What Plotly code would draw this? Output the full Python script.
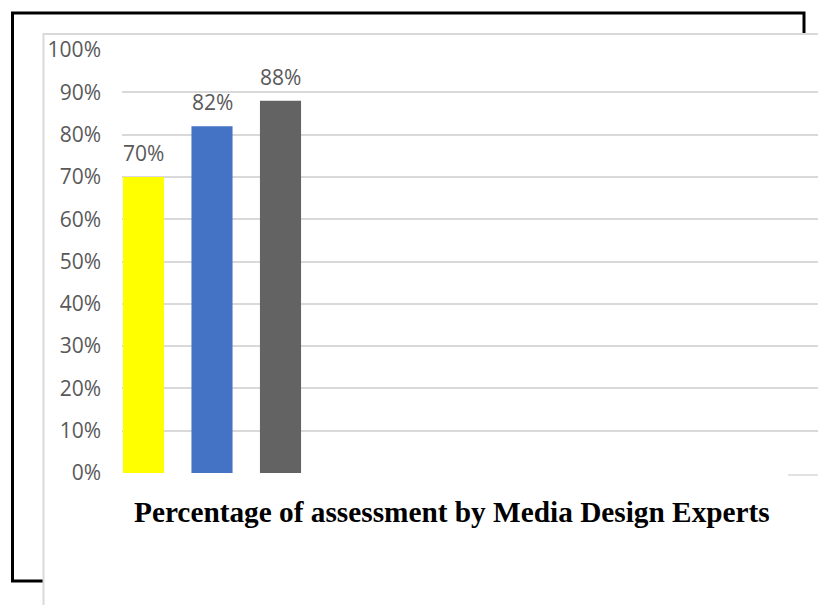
import plotly.graph_objects as go

categories = ["Item 1", "Item 2", "Item 3"]
values = [0.70, 0.82, 0.88]
labels = ["70%", "82%", "88%"]
colors = ["#FFFF00", "#4472C4", "#636363"]
tick_vals = [0, 0.1, 0.2, 0.3, 0.4, 0.5, 0.6, 0.7, 0.8, 0.9, 1.0]
tick_text = ["0%", "10%", "20%", "30%", "40%", "50%", "60%", "70%", "80%", "90%", "100%"]
title_text = "Percentage of assessment by Media Design Experts"

W, H = 818, 605
L, R, T, B = 122, 0, 50, 132
PW = W - L - R
PH = H - T - B


def px(x):
    return (x - L) / PW


def py(y):
    return (H - B - y) / PH


xs = list(range(len(categories)))

fig = go.Figure()
fig.add_trace(go.Bar(
    x=xs,
    y=values,
    marker=dict(color=colors, line=dict(width=0)),
    width=0.6,
    hoverinfo="skip",
))

shapes = [
    dict(type="rect", xref="paper", yref="paper", layer="below",
         x0=px(12.5), x1=px(804), y0=py(13), y1=py(581),
         line=dict(color="black", width=3), fillcolor="rgba(0,0,0,0)"),
    dict(type="rect", xref="paper", yref="paper", layer="below",
         x0=px(43.5), x1=px(840), y0=py(34), y1=py(640),
         line=dict(color="#D9D9D9", width=2), fillcolor="white"),
    dict(type="line", xref="paper", yref="paper", layer="between",
         x0=px(110), x1=px(788), y0=py(473), y1=py(473),
         line=dict(color="white", width=3)),
    dict(type="line", xref="paper", yref="paper", layer="between",
         x0=px(788), x1=px(818), y0=py(475), y1=py(475),
         line=dict(color="#D9D9D9", width=1.5)),
]

annotations = [dict(
    text="<b>" + title_text + "</b>", xref="paper", yref="paper",
    x=px(452), y=py(512), xanchor="center", yanchor="middle",
    showarrow=False,
    font=dict(family="Liberation Serif", size=29.3, color="black"),
)]
for xv, yv, lab in zip(xs, values, labels):
    annotations.append(dict(
        text=lab, x=xv, y=yv, xref="x", yref="y",
        xanchor="center", yanchor="bottom", yshift=8, showarrow=False,
        font=dict(family="Open Sans", size=21, color="#595959"),
    ))

fig.update_layout(
    width=W, height=H, autosize=False,
    margin=dict(l=L, r=R, t=T, b=B, pad=0),
    paper_bgcolor="white", plot_bgcolor="rgba(0,0,0,0)",
    showlegend=False,
    shapes=shapes,
    annotations=annotations,
    xaxis=dict(range=[-0.314, 9.847], showticklabels=False, showgrid=False,
               zeroline=False, showline=False, ticks=""),
    yaxis=dict(range=[0, 1], tickvals=tick_vals, ticktext=tick_text,
               showgrid=True, gridcolor="#D9D9D9", gridwidth=1.5,
               zeroline=False, showline=False, ticks="",
               ticklabelstandoff=20,
               tickfont=dict(family="Open Sans", size=21, color="#595959")),
)

fig.write_html("out.html")
